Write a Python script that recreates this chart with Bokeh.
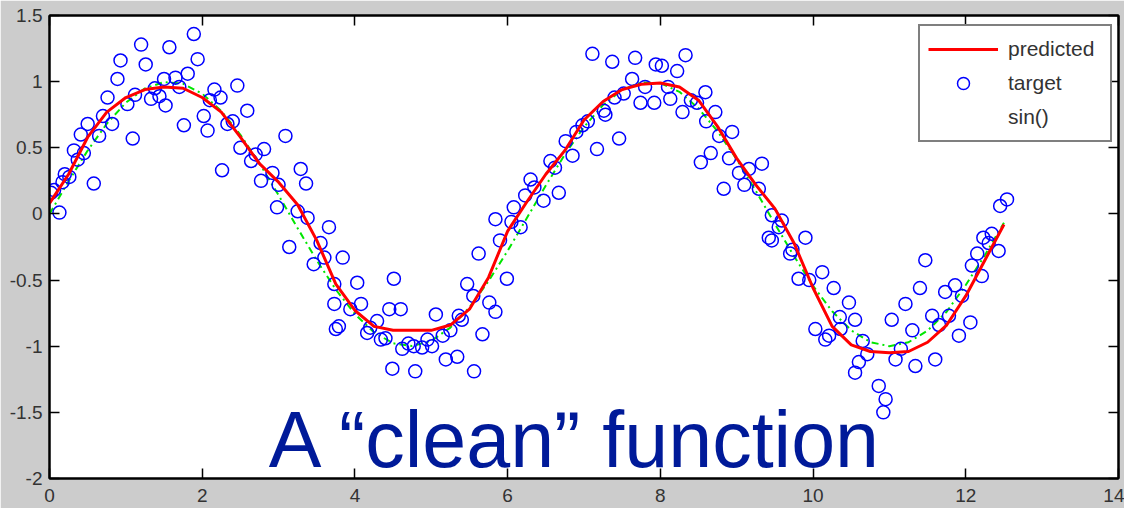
from bokeh.plotting import figure
from bokeh.models import (Range1d, LinearAxis, FixedTicker, Legend, LegendItem, Label)
from bokeh.embed import file_html
from bokeh.resources import INLINE

# ---------------- data ----------------
target_x = [0.02, 0.06, 0.13, 0.17, 0.20, 0.26, 0.32, 0.37, 0.41, 0.45, 0.50, 0.58, 0.65, 0.70,
            0.76, 0.82, 0.89, 0.93, 1.02, 1.09, 1.12, 1.20, 1.26, 1.33, 1.38, 1.44, 1.50, 1.52,
            1.57, 1.65, 1.70, 1.76, 1.81, 1.89, 1.94, 2.02, 2.07, 2.10, 2.16, 2.24, 2.26, 2.33,
            2.40, 2.46, 2.50, 2.59, 2.64, 2.70, 2.77, 2.81, 2.92, 2.98, 3.00, 3.09, 3.14, 3.25,
            3.29, 3.36, 3.38, 3.46, 3.55, 3.60, 3.66, 3.73, 3.73, 3.75, 3.79, 3.84, 3.94, 4.03,
            4.08, 4.16, 4.20, 4.29, 4.34, 4.40, 4.45, 4.49, 4.51, 4.60, 4.62, 4.70, 4.77, 4.79,
            4.88, 4.95, 5.01, 5.06, 5.15, 5.19, 5.25, 5.34, 5.36, 5.40, 5.47, 5.55, 5.56, 5.62,
            5.67, 5.76, 5.84, 5.84, 5.90, 5.99, 6.05, 6.08, 6.17, 6.23, 6.30, 6.35, 6.47, 6.56,
            6.62, 6.67, 6.76, 6.85, 6.90, 6.98, 7.05, 7.11, 7.17, 7.26, 7.28, 7.37, 7.40, 7.46,
            7.52, 7.63, 7.67, 7.74, 7.80, 7.92, 7.94, 8.02, 8.10, 8.13, 8.22, 8.29, 8.33, 8.40,
            8.48, 8.53, 8.59, 8.60, 8.66, 8.72, 8.77, 8.83, 8.90, 8.94, 9.03, 9.10, 9.16, 9.29,
            9.33, 9.42, 9.46, 9.46, 9.55, 9.59, 9.70, 9.73, 9.81, 9.90, 9.95, 10.03, 10.12, 10.16,
            10.21, 10.27, 10.35, 10.36, 10.47, 10.55, 10.55, 10.60, 10.65, 10.71, 10.86, 10.92,
            10.95, 11.03, 11.08, 11.15, 11.21, 11.30, 11.34, 11.40, 11.47, 11.56, 11.60, 11.65,
            11.73, 11.78, 11.86, 11.91, 11.95, 12.06, 12.08, 12.15, 12.21, 12.23, 12.30, 12.34,
            12.43, 12.45, 12.54]
target_y = [0.16, 0.18, 0.01, 0.24, 0.30, 0.28, 0.48, 0.41, 0.60, 0.46, 0.68, 0.23, 0.59, 0.74,
            0.88, 0.68, 1.02, 1.16, 0.83, 0.57, 0.90, 1.28, 1.13, 0.87, 0.95, 0.89, 1.02, 0.82,
            1.26, 1.03, 0.96, 0.67, 1.06, 1.36, 1.17, 0.74, 0.63, 0.86, 0.94, 0.88, 0.33, 0.68,
            0.70, 0.97, 0.50, 0.78, 0.40, 0.45, 0.25, 0.49, 0.31, 0.05, 0.22, 0.59, -0.25, 0.02,
            0.34, 0.23, -0.03, -0.38, -0.22, -0.33, -0.10, -0.53, -0.68, -0.87, -0.85, -0.33, -0.72, -0.52,
            -0.68, -0.90, -0.86, -0.81, -0.95, -0.94, -0.72, -1.17, -0.49, -0.72, -1.02, -0.98, -1.00, -1.19,
            -1.01, -0.95, -1.00, -0.76, -0.92, -1.10, -0.88, -1.08, -0.77, -0.80, -0.53, -0.62, -1.19, -0.30,
            -0.91, -0.67, -0.74, -0.04, -0.20, -0.49, -0.06, 0.05, -0.10, 0.14, 0.26, 0.20, 0.10, 0.40,
            0.35, 0.16, 0.55, 0.44, 0.62, 0.67, 0.70, 1.21, 0.49, 0.78, 0.75, 1.15, 0.88, 0.57,
            0.91, 1.02, 1.18, 0.84, 0.96, 0.84, 1.13, 1.12, 0.96, 0.87, 1.08, 0.77, 1.20, 0.86,
            0.84, 0.39, 0.92, 0.70, 0.46, 0.77, 0.59, 0.19, 0.42, 0.62, 0.31, 0.22, 0.34, 0.19,
            0.38, -0.18, -0.01, -0.20, -0.10, -0.05, -0.30, -0.27, -0.49, -0.18, -0.50, -0.87, -0.44, -0.95,
            -0.92, -0.56, -0.78, -0.87, -0.67, -0.80, -1.20, -1.12, -0.96, -1.06, -1.30, -1.50,
            -1.40, -0.80, -1.10, -1.02, -0.68, -0.88, -1.15, -0.56, -0.35, -0.77, -1.10, -0.84,
            -0.59, -0.77, -0.54, -0.92, -0.62, -0.82, -0.39, -0.30, -0.47, -0.18, -0.22, -0.15,
            -0.28, 0.06, 0.11]

curve_x = [0.0, 0.25, 0.5, 0.75, 1.0, 1.25, 1.5, 1.75, 2.0, 2.25, 2.5, 2.75, 3.0, 3.25, 3.5,
           3.75, 4.0, 4.25, 4.5, 4.75, 5.0, 5.25, 5.5, 5.75, 6.0, 6.25, 6.5, 6.75, 7.0, 7.25,
           7.5, 7.75, 8.0, 8.25, 8.5, 8.75, 9.0, 9.25, 9.5, 9.75, 10.0, 10.25, 10.5, 10.75,
           11.0, 11.25, 11.5, 11.75, 12.0, 12.25, 12.5]
predicted_y = [0.08, 0.30, 0.58, 0.77, 0.88, 0.94, 0.96, 0.95, 0.88, 0.77, 0.58, 0.38, 0.24,
               0.07, -0.20, -0.53, -0.73, -0.85, -0.88, -0.88, -0.88, -0.84, -0.72, -0.48, -0.13,
               0.09, 0.30, 0.48, 0.71, 0.85, 0.94, 0.98, 0.99, 0.96, 0.86, 0.66, 0.42, 0.22, 0.04,
               -0.22, -0.56, -0.85, -0.99, -1.04, -1.05, -1.04, -0.97, -0.84, -0.62, -0.35, -0.08]
sin_y = [0.0, 0.247, 0.479, 0.682, 0.841, 0.949, 0.997, 0.984, 0.909, 0.778, 0.598, 0.382,
         0.141, -0.108, -0.351, -0.572, -0.757, -0.895, -0.978, -0.999, -0.959, -0.859, -0.706,
         -0.508, -0.279, -0.033, 0.215, 0.450, 0.657, 0.824, 0.938, 0.994, 0.989, 0.923, 0.798,
         0.624, 0.412, 0.174, -0.075, -0.319, -0.544, -0.736, -0.880, -0.969, -1.000, -0.970,
         -0.882, -0.739, -0.537, -0.312, -0.066]

x_ticks = [0, 2, 4, 6, 8, 10, 12, 14]
x_tick_labels = ["0", "2", "4", "6", "8", "10", "12", "14"]
y_ticks = [-2, -1.5, -1, -0.5, 0, 0.5, 1, 1.5]
y_tick_labels = ["-2", "-1.5", "-1", "-0.5", "0", "0.5", "1", "1.5"]
legend_labels = ["predicted", "target", "sin()"]
title_text = "A \u201cclean\u201d function"

# ---------------- figure ----------------
p = figure(width=1124, height=508, output_backend="svg", toolbar_location=None,
           x_range=Range1d(0, 14), y_range=Range1d(-2, 1.5),
           min_border_left=49, min_border_right=6, min_border_top=15, min_border_bottom=30)
p.border_fill_color = "#cccccc"
p.background_fill_color = "white"
p.outline_line_color = "black"
p.outline_line_width = 2
p.xgrid.visible = False
p.ygrid.visible = False

font = "Liberation Sans"
tick_color = "#333333"

def style_axis(ax, ticks, labels, show_labels):
    ax.ticker = FixedTicker(ticks=ticks)
    ax.major_label_overrides = {t: l for t, l in zip(ticks, labels)}
    ax.major_tick_in = 10
    ax.major_tick_out = 0
    ax.minor_tick_in = 0
    ax.minor_tick_out = 0
    ax.major_tick_line_width = 1.5
    ax.major_tick_line_color = "black"
    ax.axis_line_width = 2
    ax.axis_line_color = "black"
    ax.major_label_text_font = font
    if show_labels:
        ax.major_label_text_color = tick_color
        ax.major_label_text_font_size = "19px"
    else:
        # ticks only: labels are not painted at all
        ax.major_label_text_color = None
        ax.major_label_text_font_size = "2px"
        ax.major_label_standoff = 0

style_axis(p.xaxis[0], x_ticks, x_tick_labels, True)
p.xaxis[0].major_label_standoff = 10
style_axis(p.yaxis[0], y_ticks, y_tick_labels, True)
p.yaxis[0].major_label_standoff = 7

top_axis = LinearAxis()
style_axis(top_axis, x_ticks, x_tick_labels, False)
p.add_layout(top_axis, "above")
right_axis = LinearAxis()
style_axis(right_axis, y_ticks, y_tick_labels, False)
p.add_layout(right_axis, "right")

# ---------------- glyphs ----------------
r_sin = p.line(curve_x, sin_y, line_color="#00e600", line_width=2, line_dash="7 4 2 4")
r_target = p.scatter(target_x, target_y, marker="circle", size=13, fill_color=None,
                     line_color="#0000ff", line_width=1.5)
r_pred = p.line(curve_x, predicted_y, line_color="#ff0000", line_width=3)
r_dummy = p.line([0, 0], [0, 0], line_alpha=0)

legend = Legend(items=[LegendItem(label=legend_labels[0], renderers=[r_pred]),
                       LegendItem(label=legend_labels[1], renderers=[r_target]),
                       LegendItem(label=legend_labels[2], renderers=[r_dummy])],
                location=(869, 336))
legend.border_line_color = "black"
legend.border_line_width = 2
legend.background_fill_color = "white"
legend.background_fill_alpha = 1
legend.padding = 8
legend.spacing = 4
legend.glyph_width = 70
legend.glyph_height = 30
legend.label_height = 30
legend.label_width = 94
legend.label_standoff = 10
legend.label_text_font = font
legend.label_text_font_size = "21px"
legend.label_text_color = tick_color
p.add_layout(legend)

title = Label(x=2.87, y=-1.705, text=title_text, text_font=font, text_font_size="79px",
              text_color="#001a99", text_baseline="alphabetic", text_align="left")
p.add_layout(title)

open("out.html", "w").write(file_html(p, INLINE))
